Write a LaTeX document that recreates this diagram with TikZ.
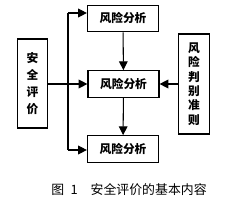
\documentclass[tikz,border=0pt]{standalone}
\usepackage{fontspec}
\newfontfamily\cjk{Noto Sans CJK SC}
\usetikzlibrary{arrows.meta}
\tikzset{
  box/.style={draw, line width=1pt, inner sep=0pt, align=center,
    font=\cjk\bfseries\fontsize{10pt}{12pt}\selectfont},
  hbox/.style={box, minimum width=2.13cm, minimum height=0.8cm},
  vbox/.style={box, minimum width=0.92cm},
  link/.style={line width=0.9pt, -{Triangle[length=7.5pt, width=7.5pt]}},
}
\begin{document}
\begin{tikzpicture}[x=0.03cm, y=0.03cm]
  \useasboundingbox (0,0) rectangle (227,204);
  % 1. 三个分析框
  \node[hbox] (ana1) at (123,185.5) {风险分析};
  \node[hbox] (ana2) at (123.5,120) {风险分析};
  \node[hbox] (ana3) at (123,55) {风险分析};

  % 2. 左右两侧的竖排框
  \node[vbox, minimum height=2.67cm,
    font=\cjk\bfseries\fontsize{10pt}{14.5pt}\selectfont] (eval) at (32.5,120.5)
    {安\\全\\评\\价};
  \node[vbox, minimum height=3cm,
    font=\cjk\bfseries\fontsize{10pt}{12.2pt}\selectfont] (rule) at (194,120)
    {风\\险\\判\\别\\准\\则};

  % 3. 左侧总线
  \coordinate (bus1) at (68,191);
  \coordinate (bus3) at (68,54);
  \draw[line width=0.9pt] (bus1) -- (bus3);
  \draw[link] (bus1) -- (bus1 -| ana1.west);
  \draw[link] (bus3) -- (bus3 -| ana3.west);
  \draw[link] (eval.east |- ana2.west) -- (ana2.west);

  % 4. 中间的纵向箭头与右侧输入
  \draw[link] (ana1) -- (ana2);
  \draw[link] (ana2) -- (ana3);
  \draw[link] (rule.west |- ana2.east) -- (ana2.east);

  % 5. 图题
  \node[font=\cjk\fontsize{11pt}{13pt}\selectfont] (cap) at (129,14)
    {图\hspace{0.5em}1\hspace{1em}安全评价的基本内容};
\end{tikzpicture}
\end{document}
